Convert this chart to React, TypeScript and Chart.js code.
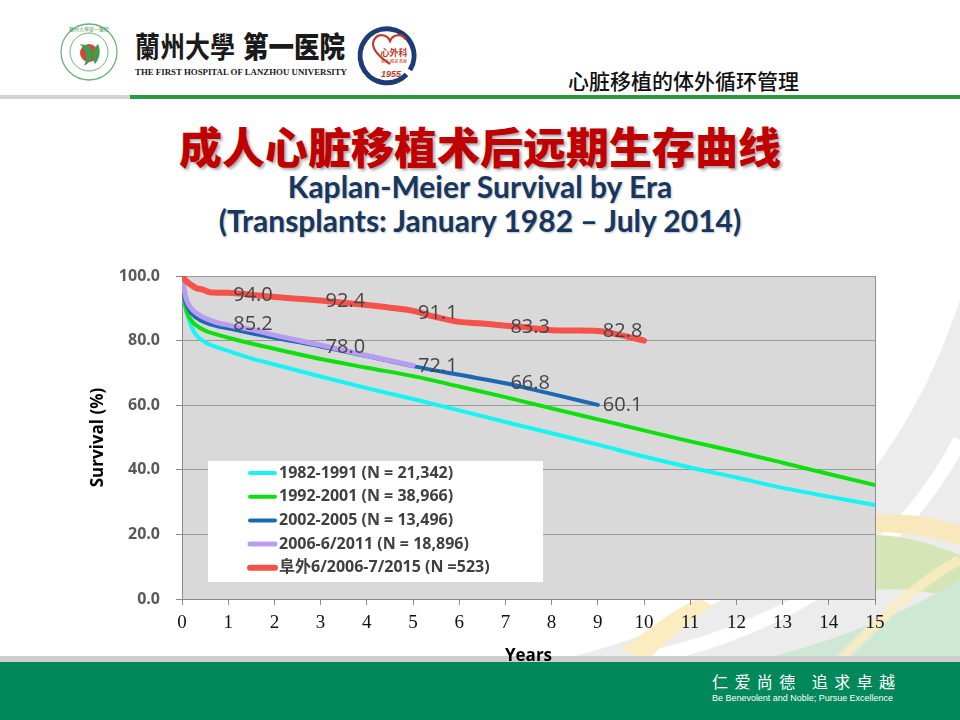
import React, { useEffect, useRef } from "react";
import { Chart, registerables } from "chart.js";

Chart.register(...registerables);

// ---------- data ----------
const seriesLabels = [
  "1982-1991 (N = 21,342)",
  "1992-2001 (N = 38,966)",
  "2002-2005 (N = 13,496)",
  "2006-6/2011 (N = 18,896)",
  "阜外6/2006-7/2015 (N =523)",
];
const seriesColors = ["#16f4f4", "#0ee00e", "#1b68b4", "#b79cf0", "#f5524b"];
const seriesWidths = [4, 4, 4, 5, 6];

const era1Years = [0, 0.05, 0.1, 0.2, 0.3, 0.5, 0.75, 1, 1.5, 2, 3, 4, 5, 6, 7, 8, 9, 10, 11, 12, 13, 14, 15];
const era1Survival = [100, 92.5, 89, 84.5, 81.8, 79.5, 78.0, 76.8, 74.5, 72.6, 68.9, 65.3, 61.9, 58.4, 54.8, 51.3, 47.8, 44.1, 40.7, 37.6, 34.4, 31.7, 29.1];

const era2Years = [0, 0.05, 0.1, 0.2, 0.3, 0.5, 0.75, 1, 1.5, 2, 3, 4, 5, 6, 7, 8, 9, 10, 11, 12, 13, 14, 15];
const era2Survival = [100, 93, 89, 86.3, 84.8, 83.1, 81.9, 80.9, 79.1, 77.5, 74.3, 71.6, 69.0, 65.8, 62.5, 59.0, 55.6, 52.2, 48.8, 45.6, 42.2, 38.7, 35.3];

const era3Years = [0, 0.05, 0.1, 0.2, 0.3, 0.5, 0.75, 1, 1.5, 2, 3, 4, 5, 6, 7, 8, 9];
const era3Survival = [100, 93.5, 91, 88.5, 87.2, 85.6, 84.5, 83.8, 82.3, 80.9, 78.2, 75.2, 72.1, 69.4, 66.8, 63.5, 60.1];

const era4Years = [0, 0.05, 0.1, 0.2, 0.3, 0.5, 0.75, 1, 1.5, 2, 3, 4, 5];
const era4Survival = [100, 95.5, 92.5, 90, 88.6, 86.9, 85.6, 84.8, 83.4, 81.7, 78.6, 75.4, 72.3];

const fuwaiYears = [0, 0.1, 0.2, 0.3, 0.45, 0.6, 1, 1.5, 2, 3, 4, 4.5, 5, 5.5, 6, 6.5, 7, 7.5, 8, 8.5, 9, 9.5, 10];
const fuwaiSurvival = [100, 98.3, 97.2, 96.3, 95.8, 95, 94.8, 94.2, 93.5, 92.4, 91, 90.2, 89.2, 87.3, 85.8, 85.3, 84.6, 84.0, 83.2, 83.1, 83.0, 81.7, 80.0];

const labelYears = [1, 3, 5, 7, 9];
const ishltLabels = ["85.2", "78.0", "72.1", "66.8", "60.1"];
const ishltLabelValues = [85.2, 78.0, 72.1, 66.8, 60.1];
const fuwaiLabels = ["94.0", "92.4", "91.1", "83.3", "82.8"];
const fuwaiLabelValues = [94.0, 92.2, 88.6, 84.2, 82.8];

const xMin = 0;
const xMax = 15;
const yMin = 0;
const yMax = 100;
const yStep = 20;

const allYears = [era1Years, era2Years, era3Years, era4Years, fuwaiYears];
const allSurvival = [era1Survival, era2Survival, era3Survival, era4Survival, fuwaiSurvival];
const drawOrder = [5, 4, 3, 2, 1];

const FONT = "'Open Sans', 'Noto Sans CJK SC', sans-serif";

const panelPlugin = {
  id: "panel",
  beforeDraw(chart: any) {
    const { ctx, chartArea: a } = chart;
    ctx.save();
    ctx.fillStyle = "#d9d9d9";
    ctx.fillRect(a.left, a.top, a.right - a.left, a.bottom - a.top);
    ctx.restore();
  },
  afterDatasetsDraw(chart: any) {
    const { ctx, chartArea: a, scales } = chart;
    const xs = scales.x;
    const ys = scales.y;
    ctx.save();
    // right border
    ctx.strokeStyle = "#8f8f8f";
    ctx.lineWidth = 1;
    ctx.beginPath();
    ctx.moveTo(a.right + 0.5, a.top);
    ctx.lineTo(a.right + 0.5, a.bottom);
    ctx.stroke();

    // data labels
    ctx.font = `20px ${FONT}`;
    ctx.fillStyle = "#454545";
    ctx.textAlign = "left";
    ctx.textBaseline = "middle";
    labelYears.forEach((yr, i) => {
      const px = xs.getPixelForValue(yr) + 5;
      ctx.fillText(ishltLabels[i], px, ys.getPixelForValue(ishltLabelValues[i]));
      ctx.fillText(fuwaiLabels[i], px, ys.getPixelForValue(fuwaiLabelValues[i]));
    });

    // legend box
    const bx = a.left + 26;
    const by = a.top + 185;
    const bw = 335;
    const bh = 121;
    ctx.fillStyle = "#ffffff";
    ctx.fillRect(bx, by, bw, bh);
    ctx.font = `bold 16px ${FONT}`;
    ctx.fillStyle = "#404040";
    seriesLabels.forEach((lab, i) => {
      const cy = by + 12 + i * 23.7;
      ctx.strokeStyle = seriesColors[i];
      ctx.lineWidth = seriesWidths[i];
      ctx.lineCap = "round";
      ctx.beginPath();
      ctx.moveTo(bx + 42, cy);
      ctx.lineTo(bx + 67, cy);
      ctx.stroke();
      ctx.fillText(lab, bx + 71, cy);
    });
    ctx.restore();
  },
};

function SurvivalChart() {
  const ref = useRef<HTMLCanvasElement | null>(null);
  useEffect(() => {
    if (!ref.current) return;
    const datasets = seriesLabels.map((label, i) => ({
      label,
      data: allYears[i].map((x, j) => ({ x, y: allSurvival[i][j] })),
      borderColor: seriesColors[i],
      backgroundColor: seriesColors[i],
      borderWidth: seriesWidths[i],
      pointRadius: 0,
      borderCapStyle: "round" as const,
      borderJoinStyle: "round" as const,
      cubicInterpolationMode: "monotone" as const,
      fill: false,
      order: drawOrder[i],
    }));
    const chart = new Chart(ref.current, {
      type: "line",
      data: { datasets },
      options: {
        responsive: false,
        animation: false,
        devicePixelRatio: 1,
        layout: { padding: { left: 82, right: 85, top: 276, bottom: 54 } },
        plugins: {
          legend: { display: false },
          tooltip: { enabled: false },
        },
        scales: {
          x: {
            type: "linear",
            min: xMin,
            max: xMax,
            afterFit: (s: any) => {
              s.height = 67;
            },
            ticks: {
              stepSize: 1,
              color: "#111111",
              font: { family: "'Liberation Serif', serif", size: 19 },
              padding: 7,
              maxRotation: 0,
            },
            grid: {
              display: true,
              drawOnChartArea: false,
              drawTicks: true,
              tickLength: 6,
              color: "#8a8a8a",
            },
            border: { display: true, color: "#8a8a8a", width: 1 },
            title: {
              display: true,
              text: "Years",
              color: "#000000",
              font: { family: FONT, size: 17, weight: "bold" },
              padding: { top: 0, bottom: 0 },
            },
          },
          y: {
            type: "linear",
            min: yMin,
            max: yMax,
            afterFit: (s: any) => {
              s.width = 100;
            },
            ticks: {
              stepSize: yStep,
              color: "#595959",
              font: { family: FONT, size: 16, weight: "bold" },
              padding: 16,
              callback: (v: any) => Number(v).toFixed(1),
            },
            grid: {
              display: true,
              drawOnChartArea: true,
              drawTicks: true,
              tickLength: 6,
              color: "#9a9a9a",
              borderDash: [2, 2],
              tickBorderDash: [],
              tickColor: "#8a8a8a",
            },
            border: { display: true, color: "#8a8a8a", width: 1 },
            title: {
              display: true,
              text: "Survival (%)",
              color: "#000000",
              font: { family: FONT, size: 17, weight: "bold" },
              padding: { top: 6, bottom: 0 },
            },
          },
        },
      } as any,
      plugins: [panelPlugin],
    });
    return () => chart.destroy();
  }, []);
  return (
    <canvas
      ref={ref}
      width={960}
      height={720}
      style={{ position: "absolute", left: 0, top: 0, width: 960, height: 720 }}
    />
  );
}

function Background() {
  return (
    <svg width={960} height={720} style={{ position: "absolute", left: 0, top: 0 }}>
      {/* decorative swooshes */}
      <path d="M 560 660 C 720 620, 880 540, 960 300 L 960 660 Z" fill="#ececec" />
      <path d="M 640 660 C 780 630, 900 560, 960 440" stroke="#ffffff" strokeWidth={14} fill="none" />
      <path d="M 620 650 C 650 630, 670 610, 700 598 L 712 606 C 690 620, 668 640, 648 660 Z" fill="#fbecc2" />
      <path d="M 875 515 C 905 512, 935 518, 960 525 L 960 545 C 935 538, 905 532, 875 532 Z" fill="#f8e8bc" />
      <path d="M 875 535 C 905 535, 935 545, 960 555 L 960 600 C 930 590, 900 588, 875 590 Z" fill="#d5e5b6" />
      <path d="M 760 660 C 840 640, 910 610, 960 580 L 960 660 Z" fill="#cfe8d6" />
      <path d="M 840 660 C 880 620, 920 580, 960 560" stroke="#fbecc2" strokeWidth={10} fill="none" opacity={0.8} />

      {/* header line */}
      <rect x={0} y={95} width={130} height={4} fill="#d3d3d3" />
      <rect x={130} y={95} width={830} height={4} fill="#2a9a40" />

      {/* hospital emblem */}
      <circle cx={89} cy={52} r={28} fill="#ffffff" stroke="#6fb27a" strokeWidth={1.3} />
      <circle cx={89} cy={52} r={19} fill="none" stroke="#6fb27a" strokeWidth={1} />
      <circle cx={89} cy={53} r={9} fill="#d9432f" />
      <path d="M 80 44 C 86 50, 88 58, 84 66 C 92 62, 94 54, 90 46 Z" fill="#3b9d4f" />
      <path d="M 98 44 C 92 50, 91 57, 95 64 C 100 58, 101 50, 98 44 Z" fill="#3b9d4f" />
      <text x={89} y={31} fontSize={5} fill="#4d9b5a" textAnchor="middle" fontFamily="'Noto Sans CJK TC'">
        蘭州大學第一醫院
      </text>

      {/* hospital name */}
      <text x={135} y={58} fontSize={29} fontWeight={700} fill="#1a1a1a" fontFamily="'Noto Sans CJK TC'" textLength={100} lengthAdjust="spacingAndGlyphs">
        蘭州大學
      </text>
      <text x={243} y={58} fontSize={29} fontWeight={900} fill="#1a1a1a" fontFamily="'Noto Sans CJK SC'" textLength={102} lengthAdjust="spacingAndGlyphs">
        第一医院
      </text>
      <text x={135} y={75} fontSize={8.5} fontWeight={700} fill="#1a1a1a" fontFamily="'Liberation Serif'" textLength={212} lengthAdjust="spacingAndGlyphs">
        THE FIRST HOSPITAL OF LANZHOU UNIVERSITY
      </text>

      {/* cardiac surgery logo */}
      <path d="M 406.5 74.5 A 27 27 0 1 1 410 70" stroke="#1d3b74" strokeWidth={5} fill="none" />
      <path d="M 390 64 C 378 56, 370 48, 374 40 C 378 33, 387 34, 390 41 C 393 34, 402 33, 406 40" stroke="#c0392b" strokeWidth={2.2} fill="none" />
      <text x={394} y={56} fontSize={9} fill="#c0392b" textAnchor="middle" fontFamily="'Noto Sans CJK SC'" fontWeight={700}>
        心外科
      </text>
      <text x={394} y={63} fontSize={4} fill="#c0392b" textAnchor="middle" fontFamily="'Noto Sans CJK SC'">
        敬业 精诚 奉献
      </text>
      <text x={391} y={77} fontSize={9} fill="#c0392b" textAnchor="middle" fontFamily="'Liberation Sans'" fontWeight={700} fontStyle="italic">
        1955
      </text>

      {/* footer band */}
      <rect x={0} y={656} width={960} height={6} fill="#cfcfcf" />
      <rect x={0} y={662} width={960} height={58} fill="#00885b" />
      <text x={712} y={688} fontSize={16} fill="#ffffff" fontFamily="'Noto Sans CJK SC'" textLength={183} lengthAdjust="spacing">
        仁爱尚德 追求卓越
      </text>
      <text x={712} y={701} fontSize={9} fill="#ffffff" fontFamily="'Liberation Sans'" textLength={181} lengthAdjust="spacingAndGlyphs">
        Be Benevolent and Noble;  Pursue Excellence
      </text>
    </svg>
  );
}

export default function App() {
  return (
    <div
      style={{
        position: "absolute",
        left: 0,
        top: 0,
        width: 960,
        height: 720,
        overflow: "hidden",
        background: "#ffffff",
      }}
    >
      <Background />
      <div
        style={{
          position: "absolute",
          left: 568,
          top: 66,
          fontFamily: "'Noto Sans CJK SC', sans-serif",
          fontSize: 21,
          fontWeight: 500,
          lineHeight: "28px",
          color: "#111111",
          whiteSpace: "nowrap",
        }}
      >
        心脏移植的体外循环管理
      </div>
      <div
        style={{
          position: "absolute",
          left: 0,
          top: 120,
          width: 960,
          textAlign: "center",
          fontFamily: "'Noto Sans CJK SC', sans-serif",
          fontSize: 43,
          fontWeight: 900,
          lineHeight: "50px",
          color: "#c00000",
          textShadow: "2px 2px 3px rgba(0,0,0,0.35)",
          whiteSpace: "nowrap",
        }}
      >
        成人心脏移植术后远期生存曲线
      </div>
      <div
        style={{
          position: "absolute",
          left: 0,
          top: 168,
          width: 960,
          textAlign: "center",
          fontFamily: "Lato, 'Open Sans', sans-serif",
          fontSize: 30,
          fontWeight: 700,
          lineHeight: "36px",
          color: "#17375e",
          textShadow: "1px 1px 2px rgba(0,0,0,0.25)",
          whiteSpace: "nowrap",
        }}
      >
        Kaplan-Meier Survival by Era
      </div>
      <div
        style={{
          position: "absolute",
          left: 0,
          top: 202,
          width: 960,
          textAlign: "center",
          fontFamily: "Lato, 'Open Sans', sans-serif",
          fontSize: 30,
          fontWeight: 700,
          lineHeight: "36px",
          color: "#17375e",
          textShadow: "1px 1px 2px rgba(0,0,0,0.25)",
          whiteSpace: "nowrap",
        }}
      >
        (Transplants: January 1982 – July 2014)
      </div>
      <SurvivalChart />
    </div>
  );
}
